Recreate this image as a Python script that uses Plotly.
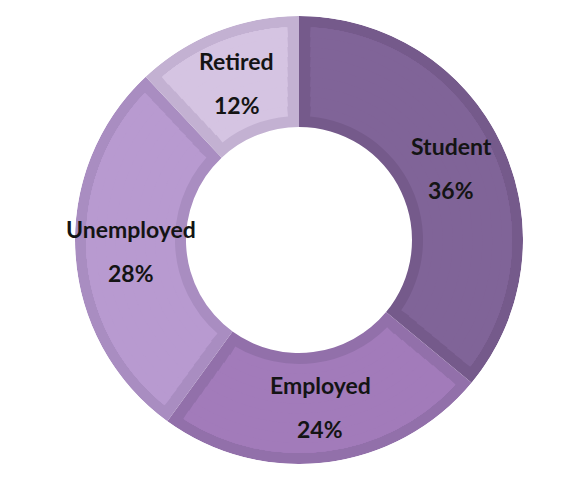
import math
import plotly.graph_objects as go

# slice data, clockwise from 12 o'clock
labels = ["Student", "Employed", "Unemployed", "Retired"]
shares = [36, 24, 28, 12]
fill_colors = ["#806498", "#a27bba", "#b89ad0", "#d5c4e2"]
edge_colors = ["#755a8b", "#9270aa", "#a98dc1", "#c3b1d2"]

W, H = 584, 480
# page body adds an 8px margin, so pull the centre back by that much
cx, cy = 299 - 8, 240 - 8   # ring centre, px from top-left of the figure
r_out, r_in = 224, 113      # outer / inner radius (radial axis is in px)
edge = 11                   # border drawn inside each slice
n_steps = 9                 # radial steps used to keep the side border even

total = sum(shares)
spans = [360 * v / total for v in shares]
mids = []
cum = 0
for s in spans:
    mids.append(cum + s / 2)
    cum += s

fig = go.Figure()

# full slices in the border colour
fig.add_trace(go.Barpolar(
    theta=mids,
    width=spans,
    base=[r_in] * len(shares),
    r=[r_out - r_in] * len(shares),
    marker=dict(color=edge_colors, line=dict(width=0)),
    text=labels,
    hovertemplate="%{text}<extra></extra>",
    showlegend=False,
))

# inner fill, inset by `edge` px on all sides
f_theta, f_width, f_base, f_r, f_col = [], [], [], [], []
r_lo, r_hi = r_in + edge, r_out - edge
step = (r_hi - r_lo) / n_steps
for i in range(len(shares)):
    for k in range(n_steps):
        rho = r_lo + k * step
        inset = math.degrees(edge / rho)
        f_theta.append(mids[i])
        f_width.append(spans[i] - 2 * inset)
        f_base.append(rho)
        f_r.append(r_hi - rho)
        f_col.append(fill_colors[i])

fig.add_trace(go.Barpolar(
    theta=f_theta,
    width=f_width,
    base=f_base,
    r=f_r,
    marker=dict(color=f_col, line=dict(width=0)),
    hoverinfo="skip",
    showlegend=False,
))

# labels at the middle of each slice
r_mid = (r_out + r_in) / 2
font = dict(family="Lato, 'Open Sans', sans-serif", size=23, color="#141414")
for name, v, m in zip(labels, shares, mids):
    theta = math.radians(m)
    ax = (cx + r_mid * math.sin(theta)) / W
    ay = 1 - (cy - r_mid * math.cos(theta)) / H
    fig.add_annotation(x=ax, y=ay, xref="paper", yref="paper", text="<b>%s</b>" % name,
                       xanchor="center", yanchor="middle",
                       showarrow=False, font=font, yshift=22)
    fig.add_annotation(x=ax, y=ay, xref="paper", yref="paper",
                       text="<b>%d%%</b>" % round(100 * v / total),
                       xanchor="center", yanchor="middle",
                       showarrow=False, font=font, yshift=-22)

fig.update_layout(
    width=W,
    height=H,
    margin=dict(l=0, r=0, t=0, b=0),
    paper_bgcolor="white",
    polar=dict(
        domain=dict(
            x=[(cx - r_out) / W, (cx + r_out) / W],
            y=[(H - cy - r_out) / H, (H - cy + r_out) / H],
        ),
        bgcolor="rgba(0,0,0,0)",
        barmode="overlay",
        hole=0,
        radialaxis=dict(range=[0, r_out], visible=False, showgrid=False),
        angularaxis=dict(visible=False, showgrid=False, showline=False,
                         rotation=90, direction="clockwise"),
    ),
)

fig.write_html("out.html")
